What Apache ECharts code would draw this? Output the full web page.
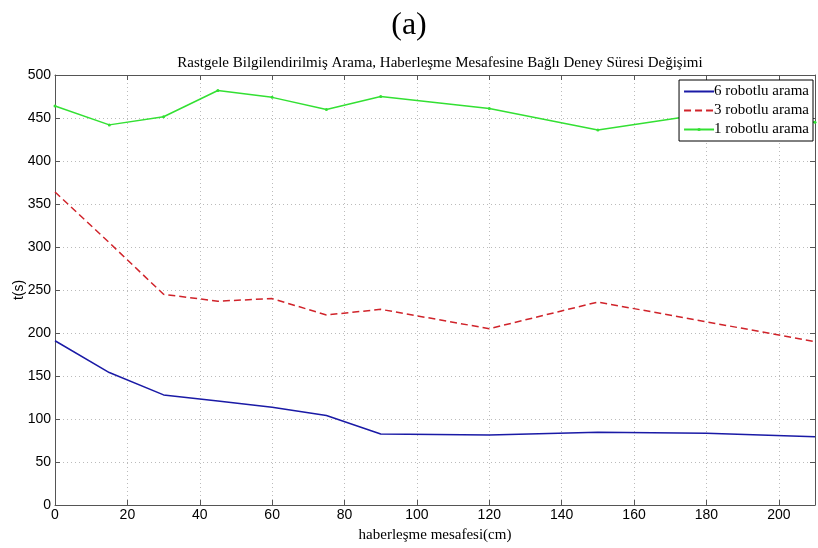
<!DOCTYPE html>
<html>
<head>
<meta charset="utf-8">
<script src="https://cdn.jsdelivr.net/npm/echarts@6/dist/echarts.min.js"></script>
<style>
html,body{margin:0;padding:0;background:#fff;}
#chart{width:818px;height:548px;}
</style>
</head>
<body>
<div id="chart"></div>
<script>
var distances = [0, 15, 30, 45, 60, 75, 90, 120, 150, 180, 210];
var robot6 = [191, 154, 128, 121, 113.6, 104, 82.6, 81.4, 84.5, 83.3, 79.4];
var robot3 = [364, 305, 245, 237, 240, 221, 227.5, 205, 236, 213, 190];
var robot1 = [464, 442, 451.5, 482, 474, 460, 475, 461, 436, 455, 445];
var seriesNames = ['6 robotlu arama', '3 robotlu arama', '1 robotlu arama'];
var xTicks = [0, 20, 40, 60, 80, 100, 120, 140, 160, 180, 200];
var yTicks = [0, 50, 100, 150, 200, 250, 300, 350, 400, 450, 500];

function pairs(ys) { return distances.map(function (x, i) { return [x, ys[i]]; }); }

var chart = echarts.init(document.getElementById('chart'));
var axisCol = '#555';
var sans = 'Liberation Sans';
var serif = 'Liberation Serif';
var gridSplit = { show: true, lineStyle: { color: '#bbb', type: [1, 3], width: 1 } };

chart.setOption({
  animation: false,
  backgroundColor: '#fff',
  title: [
    { text: '(a)', left: 'center', top: 5, textStyle: { fontFamily: serif, fontSize: 32, fontWeight: 'normal', color: '#000' } },
    { text: 'Rastgele Bilgilendirilmiş Arama, Haberleşme Mesafesine Bağlı Deney Süresi Değişimi', left: 435, textAlign: 'center', top: 51, textStyle: { fontFamily: serif, fontSize: 15, fontWeight: 'normal', color: '#000' } }
  ],
  legend: {
    right: 5, top: 80,
    orient: 'vertical',
    backgroundColor: '#fff',
    borderColor: '#000', borderWidth: 1,
    padding: [4, 4, 4, 4],
    itemGap: 4,
    itemWidth: 30, itemHeight: 4,
    textStyle: { fontFamily: serif, fontSize: 15, color: '#000', padding: [0, 0, 0, -5] },
    data: [
      { name: seriesNames[0], itemStyle: { opacity: 0 } },
      { name: seriesNames[1], itemStyle: { opacity: 0 } },
      { name: seriesNames[2] }
    ]
  },
  grid: { left: 55, top: 75, right: 3, bottom: 43, containLabel: false, outerBoundsMode: 'none' },
  xAxis: [{
    type: 'value', min: 0, max: 210, interval: 20,
    name: 'haberleşme mesafesi(cm)', nameLocation: 'middle', nameGap: 23, nameMoveOverlap: false,
    nameTextStyle: { fontFamily: serif, fontSize: 15, color: '#000' },
    axisLine: { show: true, onZero: false, lineStyle: { color: axisCol } },
    axisTick: { show: true, inside: true, length: 5, lineStyle: { color: axisCol } },
    axisLabel: { fontFamily: sans, fontSize: 14, color: '#000', margin: 3, showMaxLabel: false,
      formatter: function (v) { return xTicks.indexOf(v) >= 0 ? String(v) : ''; } },
    splitLine: gridSplit
  }, {
    type: 'value', position: 'top', min: 0, max: 210, interval: 20,
    axisLine: { show: true, onZero: false, lineStyle: { color: axisCol } },
    axisTick: { show: true, inside: true, length: 5, lineStyle: { color: axisCol } },
    axisLabel: { show: false }, splitLine: { show: false }
  }],
  yAxis: [{
    type: 'value', min: 0, max: 500, interval: 50,
    name: 't(s)', nameLocation: 'middle', nameGap: 29, nameRotate: 90, nameMoveOverlap: false,
    nameTextStyle: { fontFamily: sans, fontSize: 14, color: '#000' },
    axisLine: { show: true, onZero: false, lineStyle: { color: axisCol } },
    axisTick: { show: true, inside: true, length: 5, lineStyle: { color: axisCol } },
    axisLabel: { fontFamily: sans, fontSize: 14, color: '#000', margin: 4,
      formatter: function (v) { return yTicks.indexOf(v) >= 0 ? String(v) : ''; } },
    splitLine: gridSplit
  }, {
    type: 'value', position: 'right', min: 0, max: 500, interval: 50,
    axisLine: { show: true, onZero: false, lineStyle: { color: axisCol } },
    axisTick: { show: true, inside: true, length: 5, lineStyle: { color: axisCol } },
    axisLabel: { show: false }, splitLine: { show: false }
  }],
  series: [{
    name: seriesNames[0], type: 'line', data: pairs(robot6),
    showSymbol: false, symbol: 'none',
    lineStyle: { color: '#1a1aa6', width: 1.5 }, itemStyle: { color: '#1a1aa6' }
  }, {
    name: seriesNames[1], type: 'line', data: pairs(robot3),
    showSymbol: false, symbol: 'none',
    lineStyle: { color: '#d0232a', width: 1.5, type: [7, 4] }, itemStyle: { color: '#d0232a' }
  }, {
    name: seriesNames[2], type: 'line', data: pairs(robot1),
    symbol: 'circle', symbolSize: 3,
    lineStyle: { color: '#33e033', width: 1.5 }, itemStyle: { color: '#33e033' }
  }]
});
</script>
</body>
</html>
